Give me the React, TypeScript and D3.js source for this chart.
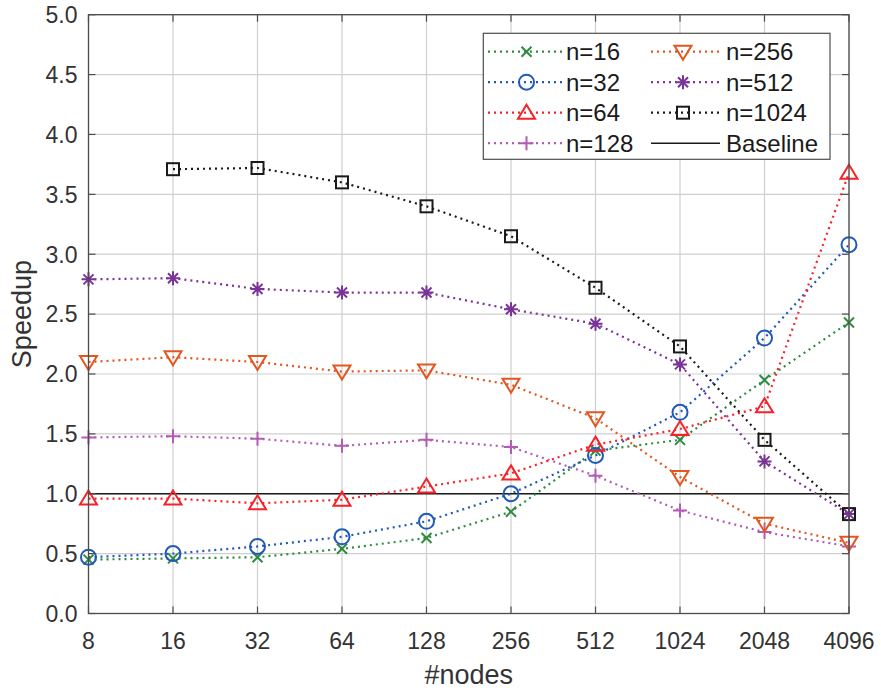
import React from "react";
import * as d3 from "d3";

const nodes = [8, 16, 32, 64, 128, 256, 512, 1024, 2048, 4096];
const yTicks = [0, 0.5, 1, 1.5, 2, 2.5, 3, 3.5, 4, 4.5, 5];

const n16 = [0.45, 0.46, 0.47, 0.54, 0.63, 0.85, 1.36, 1.45, 1.95, 2.43];
const n32 = [0.47, 0.5, 0.56, 0.64, 0.77, 1.0, 1.32, 1.68, 2.3, 3.08];
const n64 = [0.96, 0.96, 0.92, 0.95, 1.06, 1.17, 1.41, 1.54, 1.73, 3.68];
const n128 = [1.47, 1.48, 1.46, 1.4, 1.45, 1.39, 1.15, 0.86, 0.68, 0.56];
const n256 = [2.1, 2.14, 2.1, 2.02, 2.03, 1.91, 1.63, 1.14, 0.75, 0.59];
const n512 = [2.79, 2.8, 2.71, 2.68, 2.68, 2.54, 2.42, 2.08, 1.27, 0.83];
const n1024 = [null, 3.71, 3.72, 3.6, 3.4, 3.15, 2.72, 2.23, 1.45, 0.83];
const baseline = 1.0;

type Marker = "x" | "circle" | "triUp" | "plus" | "triDown" | "star" | "square";

const series: { label: string; values: (number | null)[]; color: string; marker: Marker }[] = [
  { label: "n=16", values: n16, color: "#2e8b40", marker: "x" },
  { label: "n=32", values: n32, color: "#2059b8", marker: "circle" },
  { label: "n=64", values: n64, color: "#f5222a", marker: "triUp" },
  { label: "n=128", values: n128, color: "#b45cb4", marker: "plus" },
  { label: "n=256", values: n256, color: "#e2561f", marker: "triDown" },
  { label: "n=512", values: n512, color: "#7a3397", marker: "star" },
  { label: "n=1024", values: n1024, color: "#1a1a1a", marker: "square" },
];

const W = 881;
const H = 691;
const left = 88.5;
const right = 849;
const top = 14.7;
const bottom = 613.5;
const FONT = "'Liberation Sans', Arial, sans-serif";
const TEXT = "#333333";

const x = d3.scalePoint<number>().domain(nodes).range([left, right]);
const y = d3.scaleLinear().domain([0, 5]).range([bottom, top]);

function MarkerShape({ kind, cx, cy, color }: { kind: Marker; cx: number; cy: number; color: string }) {
  const sw = 2;
  const common = { fill: "none", stroke: color, strokeWidth: sw };
  switch (kind) {
    case "x": {
      const s = 5;
      return (
        <path {...common} d={`M${cx - s},${cy - s}L${cx + s},${cy + s}M${cx - s},${cy + s}L${cx + s},${cy - s}`} />
      );
    }
    case "plus": {
      const s = 7;
      return <path {...common} d={`M${cx - s},${cy}L${cx + s},${cy}M${cx},${cy - s}L${cx},${cy + s}`} />;
    }
    case "circle":
      return <circle {...common} cx={cx} cy={cy} r={7.5} />;
    case "square":
      return <rect {...common} x={cx - 6} y={cy - 6} width={12} height={12} />;
    case "triUp": {
      const w = 8.5;
      return <path {...common} d={`M${cx},${cy - 8}L${cx + w},${cy + 6}L${cx - w},${cy + 6}Z`} />;
    }
    case "triDown": {
      const w = 8.5;
      return <path {...common} d={`M${cx},${cy + 8}L${cx + w},${cy - 6}L${cx - w},${cy - 6}Z`} />;
    }
    case "star": {
      const s = 7;
      const d = 5;
      return (
        <path
          {...common}
          d={`M${cx - s},${cy}L${cx + s},${cy}M${cx},${cy - s}L${cx},${cy + s}M${cx - d},${cy - d}L${cx + d},${cy + d}M${cx - d},${cy + d}L${cx + d},${cy - d}`}
        />
      );
    }
  }
}

export default function App() {
  const line = d3
    .line<number | null>()
    .defined((v) => v !== null)
    .x((_, i) => x(nodes[i]) as number)
    .y((v) => y(v as number));

  const legendRows = [0, 1, 2, 3].map((i) => 51.7 + i * 30.5);
  const legendItems = [
    ...series.slice(0, 4).map((s, i) => ({ ...s, col: 0, row: i })),
    ...series.slice(4).map((s, i) => ({ ...s, col: 1, row: i })),
  ];
  const cols = [
    { x0: 488, x1: 562, mx: 526.5, tx: 566 },
    { x0: 651, x1: 720, mx: 683, tx: 726 },
  ];

  return (
    <svg
      width={W}
      height={H}
      style={{ position: "absolute", left: 0, top: 0, background: "#fff" }}
      fontFamily={FONT}
    >
      <rect x={0} y={0} width={W} height={H} fill="#fff" />
      {/* grid */}
      {nodes.map((n) => (
        <line key={"gx" + n} x1={x(n)} x2={x(n)} y1={top} y2={bottom} stroke="#cfcfcf" strokeWidth={1.2} />
      ))}
      {yTicks.map((t) => (
        <line key={"gy" + t} x1={left} x2={right} y1={y(t)} y2={y(t)} stroke="#cfcfcf" strokeWidth={1.2} />
      ))}

      {/* baseline */}
      <line x1={left} x2={right} y1={y(baseline)} y2={y(baseline)} stroke="#1a1a1a" strokeWidth={1.5} />

      {/* series lines */}
      {series.map((s) => (
        <path
          key={"l" + s.label}
          d={line(s.values) || ""}
          fill="none"
          stroke={s.color}
          strokeWidth={2.2}
          strokeDasharray="2 4"
        />
      ))}
      {/* markers */}
      {series.map((s) =>
        s.values.map((v, i) =>
          v === null ? null : (
            <MarkerShape key={s.label + i} kind={s.marker} cx={x(nodes[i]) as number} cy={y(v)} color={s.color} />
          )
        )
      )}

      {/* axes box and ticks */}
      <rect x={left} y={top} width={right - left} height={bottom - top} fill="none" stroke="#4d4d4d" strokeWidth={1.3} />
      {nodes.map((n) => (
        <g key={"tx" + n}>
          <line x1={x(n)} x2={x(n)} y1={bottom} y2={bottom - 7} stroke="#4d4d4d" strokeWidth={1.2} />
          <line x1={x(n)} x2={x(n)} y1={top} y2={top + 7} stroke="#4d4d4d" strokeWidth={1.2} />
          <text x={x(n)} y={bottom + 35} textAnchor="middle" fontSize={23} fill={TEXT}>
            {n}
          </text>
        </g>
      ))}
      {yTicks.map((t) => (
        <g key={"ty" + t}>
          <line x1={left} x2={left + 7} y1={y(t)} y2={y(t)} stroke="#4d4d4d" strokeWidth={1.2} />
          <line x1={right} x2={right - 7} y1={y(t)} y2={y(t)} stroke="#4d4d4d" strokeWidth={1.2} />
          <text x={left - 11} y={y(t)} dy="0.36em" textAnchor="end" fontSize={23} fill={TEXT}>
            {t.toFixed(1)}
          </text>
        </g>
      ))}

      {/* axis titles */}
      <text x={(left + right) / 2} y={684} textAnchor="middle" fontSize={27} fill={TEXT}>
        #nodes
      </text>
      <text
        transform={`translate(31,${(top + bottom) / 2}) rotate(-90)`}
        textAnchor="middle"
        fontSize={27}
        fill={TEXT}
      >
        Speedup
      </text>

      {/* legend */}
      <rect x={483.3} y={33.3} width={346.7} height={126} fill="#fff" stroke="#4d4d4d" strokeWidth={1.2} />
      {legendItems.map((s) => {
        const c = cols[s.col];
        const ly = legendRows[s.row];
        return (
          <g key={"lg" + s.label}>
            <line x1={c.x0} x2={c.x1} y1={ly} y2={ly} stroke={s.color} strokeWidth={2.2} strokeDasharray="2 4" />
            <MarkerShape kind={s.marker} cx={c.mx} cy={ly} color={s.color} />
            <text x={c.tx} y={ly} dy="0.36em" fontSize={24} fill="#1a1a1a">
              {s.label}
            </text>
          </g>
        );
      })}
      <line x1={cols[1].x0} x2={cols[1].x1} y1={legendRows[3]} y2={legendRows[3]} stroke="#1a1a1a" strokeWidth={1.5} />
      <text x={cols[1].tx} y={legendRows[3]} dy="0.36em" fontSize={24} fill="#1a1a1a">
        Baseline
      </text>
    </svg>
  );
}
